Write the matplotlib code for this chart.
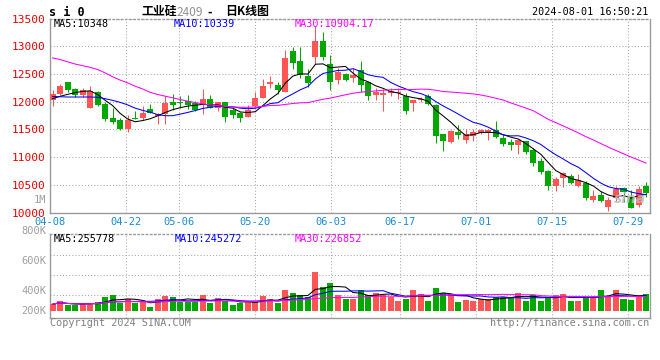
import numpy as np
import pandas as pd
import matplotlib
matplotlib.use("Agg")
import matplotlib.pyplot as plt

# --- data (si0, daily K) ---
tick_idx = [0, 10, 17, 27, 37, 46, 56, 66, 76]
tick_dates = ["04-08", "04-22", "05-06", "05-20", "06-03", "06-17", "07-01", "07-15", "07-29"]

opens = [12025, 12133, 12348, 12235, 12115, 11886, 12168, 11953, 11714, 11666,
         11504, 11714, 11714, 11869, 11740, 11773, 11989, 12001, 12012, 11976,
         11948, 12055, 11894, 11989, 11858, 11804, 11725, 11917, 12066, 12312,
         12294, 12174, 12923, 12743, 12456, 12802, 13102, 12684, 12384, 12498,
         12432, 12564, 12353, 12115, 12127, 12156, 12150, 12097, 11976, 12025,
         12097, 11935, 11414, 11276, 11455, 11319, 11378, 11437, 11440, 11498,
         11355, 11276, 11222, 11294, 11127, 10935, 10755, 10480, 10618, 10660,
         10480, 10540, 10229, 10319, 10097, 10259, 10438, 10277, 10139, 10480]
highs = [12217, 12325, 12355, 12240, 12253, 12276, 12192, 11989, 11894, 11714,
         11755, 11833, 11917, 11960, 11790, 12109, 12145, 12109, 12115, 12010,
         12235, 12115, 11994, 11995, 11880, 11810, 11935, 12174, 12414, 12456,
         12353, 12935, 12982, 12995, 12594, 13372, 13251, 12851, 12612, 12510,
         12612, 12731, 12360, 12253, 12235, 12253, 12253, 12156, 12030, 12080,
         12140, 11965, 11420, 11490, 11580, 11517, 11517, 11510, 11510, 11653,
         11396, 11337, 11337, 11300, 11175, 10978, 10768, 10647, 10737, 10700,
         10696, 10575, 10408, 10400, 10277, 10480, 10470, 10408, 10480, 10557]
lows = [11917, 12115, 12170, 12085, 12084, 11886, 11930, 11653, 11594, 11486,
        11455, 11680, 11666, 11790, 11606, 11594, 11845, 11894, 11876, 11840,
        11786, 11890, 11833, 11635, 11700, 11635, 11720, 11894, 12060, 12253,
        12133, 12170, 12594, 12432, 12264, 12684, 12756, 12204, 12325, 12380,
        12353, 12174, 12025, 12025, 11827, 12097, 12055, 11773, 11833, 12000,
        11950, 11258, 11114, 11250, 11330, 11258, 11294, 11420, 11306, 11355,
        11199, 11127, 11050, 11060, 10839, 10696, 10408, 10396, 10457, 10520,
        10457, 10229, 10198, 10200, 10037, 10216, 10200, 10080, 10108, 10288]
closes = [12133, 12276, 12204, 12115, 12204, 12186, 11940, 11689, 11635, 11504,
          11678, 11689, 11797, 11797, 11770, 11976, 11945, 11976, 11940, 11845,
          12055, 11894, 11989, 11725, 11755, 11714, 11845, 12066, 12276, 12353,
          12204, 12785, 12695, 12474, 12336, 13090, 12815, 12353, 12533, 12390,
          12486, 12294, 12097, 12174, 12156, 12192, 12170, 11827, 12025, 12055,
          11965, 11378, 11294, 11473, 11400, 11414, 11455, 11486, 11490, 11366,
          11235, 11229, 11319, 11085, 10888, 10737, 10480, 10601, 10719, 10540,
          10583, 10259, 10301, 10216, 10229, 10420, 10378, 10080, 10420, 10360]
# volume in thousands of lots
volumes_k = [110, 164, 98, 98, 110, 136, 153, 235, 267, 136,
             197, 126, 143, 71, 197, 251, 235, 153, 153, 153,
             267, 126, 213, 159, 103, 136, 153, 153, 251, 197,
             136, 349, 300, 257, 235, 640, 399, 464, 267, 192,
             192, 349, 267, 290, 267, 225, 169, 197, 349, 284,
             169, 382, 300, 274, 153, 185, 169, 197, 192, 235,
             235, 235, 300, 169, 267, 169, 213, 267, 284, 169,
             169, 235, 251, 349, 235, 349, 202, 180, 267, 284]

# moving-average values before the window fills
ma5_head = [12055, 12097, 12133, 12163]
ma10_head = [12095, 12090, 12085, 12085, 12085, 12085, 12080, 12055, 12025]
ma30_head = [12790, 12760, 12720, 12680, 12650, 12620, 12580, 12520, 12450, 12390,
             12340, 12280, 12230, 12170, 12130, 12100, 12070, 12040, 12010, 11985,
             11960, 11945, 11930, 11915, 11905, 11900, 11900, 11905, 11915]

RED = "#FF5555"
GREEN = "#00A800"
GRID = "#A8A8A8"
FRAME = "#9A9A9A"
MONO = "DejaVu Sans Mono"
CJK = ["Noto Sans CJK SC", "DejaVu Sans"]

W, H = 660, 360


def fx(px):
    return px / W


def fy(py):
    return 1 - py / H


def moving_avg(values, n, head):
    m = pd.Series(values, dtype=float).rolling(n).mean()
    m.iloc[:n - 1] = head
    return m.values


n = len(closes)
x = np.arange(n)
o = np.array(opens, float)
c = np.array(closes, float)
colors = [RED if c[i] >= o[i] else GREEN for i in range(n)]

fig = plt.figure(figsize=(6.6, 3.6), dpi=100)
fig.patch.set_facecolor("white")

ax = fig.add_axes([fx(50), fy(212.7), fx(599.5), (212.7 - 18.5) / H])
vax = fig.add_axes([fx(50), fy(318), fx(599.5), 84 / H])

xmin, xmax = -0.333, 79.46
grid_x = [(7.6 * d - 2.5) / 7.513 for d in tick_idx]

# --- price panel ---
body_lo = np.minimum(o, c)
body_h = np.maximum(np.abs(c - o), 18)
ax.vlines(x, lows, highs, colors=colors, linewidth=0.75, zorder=2)
ax.bar(x, body_h, bottom=body_lo, width=0.8, color=colors, linewidth=0, zorder=3)

ax.plot(x, moving_avg(closes, 5, ma5_head), color="black", lw=0.75, zorder=4)
ax.plot(x, moving_avg(closes, 10, ma10_head), color="#0000FF", lw=0.75, zorder=4)
ax.plot(x, moving_avg(closes, 30, ma30_head), color="#FF00FF", lw=0.75, zorder=4)

ax.set_xlim(xmin, xmax)
ax.set_ylim(10000, 13500)
ax.set_yticks(range(10000, 13501, 500))
ax.set_yticklabels([str(v) for v in range(10000, 13501, 500)],
                   color="#E80000", fontsize=8, family=MONO)
ax.set_xticks(grid_x)
ax.set_xticklabels(tick_dates, color="#1A8AD4", fontsize=7.5, family=MONO)
ax.tick_params(length=0, pad=3)
ax.grid(True, color=GRID, linestyle=(0, (1, 2)), linewidth=0.75, zorder=0)
ax.set_axisbelow(True)

# --- volume panel ---
vax.bar(x, volumes_k, width=0.8, color=colors, linewidth=0, zorder=3)
vol = pd.Series(volumes_k, dtype=float)
vax.plot(x, vol.rolling(5, min_periods=1).mean(), color="black", lw=0.75, zorder=4)
vax.plot(x, vol.rolling(10, min_periods=1).mean(), color="#0000FF", lw=0.75, zorder=4)
vax.plot(x, vol.rolling(30, min_periods=1).mean(), color="#FF00FF", lw=0.75, zorder=4)
vax.set_xlim(xmin, xmax)
vax.set_ylim(-115, 1263)
vax.set_xticks(grid_x)
vax.set_xticklabels([])
vax.set_yticks([262, 585, 918])
vax.set_yticklabels([])
vax.tick_params(length=0)
vax.grid(True, color=GRID, linestyle=(0, (1, 2)), linewidth=0.75, zorder=0)
vax.set_axisbelow(True)

for a in (ax, vax):
    for s in a.spines.values():
        s.set_color(FRAME)
        s.set_linewidth(1.0)
    a.spines["top"].set_linestyle((0, (1, 2)))

# volume axis labels (placed as in the original)
for lab, py in [("800K", 231), ("600K", 261), ("400K", 290.7), ("200K", 311)]:
    fig.text(fx(46), fy(py), lab, ha="right", va="center", color="#A0A0A0",
             fontsize=7.5, family=MONO)
fig.text(fx(46), fy(200), "1M", ha="right", va="center", color="#A0A0A0",
         fontsize=7.5, family=MONO)

# MA legends
for lab, px, col in [("MA5:10348", 54, "black"), ("MA10:10339", 174, "#0000FF"),
                     ("MA30:10904.17", 295, "#FF00FF")]:
    fig.text(fx(px), fy(24), lab, ha="left", va="center", color=col,
             fontsize=7.3, family=MONO)
for lab, px, col in [("MA5:255778", 54, "black"), ("MA10:245272", 175, "#0000FF"),
                     ("MA30:226852", 295, "#FF00FF")]:
    fig.text(fx(px), fy(238.7), lab, ha="left", va="center", color=col,
             fontsize=7.3, family=MONO)

# title line
fig.text(fx(49), fy(12), "s i 0", ha="left", va="center", color="black",
         fontsize=8.5, family=MONO, fontweight="bold")
fig.text(fx(141), fy(12), "工业硅", ha="left", va="center", color="black",
         fontsize=8.6, family=CJK, fontweight="bold")
fig.text(fx(177), fy(12), "2409", ha="left", va="center", color="#909090",
         fontsize=8.6, family=CJK)
fig.text(fx(207), fy(12), "-", ha="left", va="center", color="black",
         fontsize=8.6, family=CJK, fontweight="bold")
fig.text(fx(225), fy(12), "日K线图", ha="left", va="center", color="black",
         fontsize=8.6, family=CJK, fontweight="bold")
fig.text(fx(648), fy(12), "2024-08-01 16:50:21", ha="right", va="center",
         color="black", fontsize=7.3, family=MONO)

# footer
fig.text(fx(50), fy(323.5), "Copyright 2024 SINA.COM", ha="left", va="center",
         color="#808080", fontsize=7.3, family=MONO)
fig.text(fx(649), fy(323.5), "http://finance.sina.com.cn", ha="right", va="center",
         color="#808080", fontsize=7.3, family=MONO)

# watermark
ax.text(0.995, 0.07, "sina", transform=ax.transAxes, ha="right", va="center",
        color="#BDBDBD", fontsize=10, fontstyle="italic", fontweight="bold",
        alpha=0.85, zorder=6)

fig.savefig("out.png", dpi=100)
